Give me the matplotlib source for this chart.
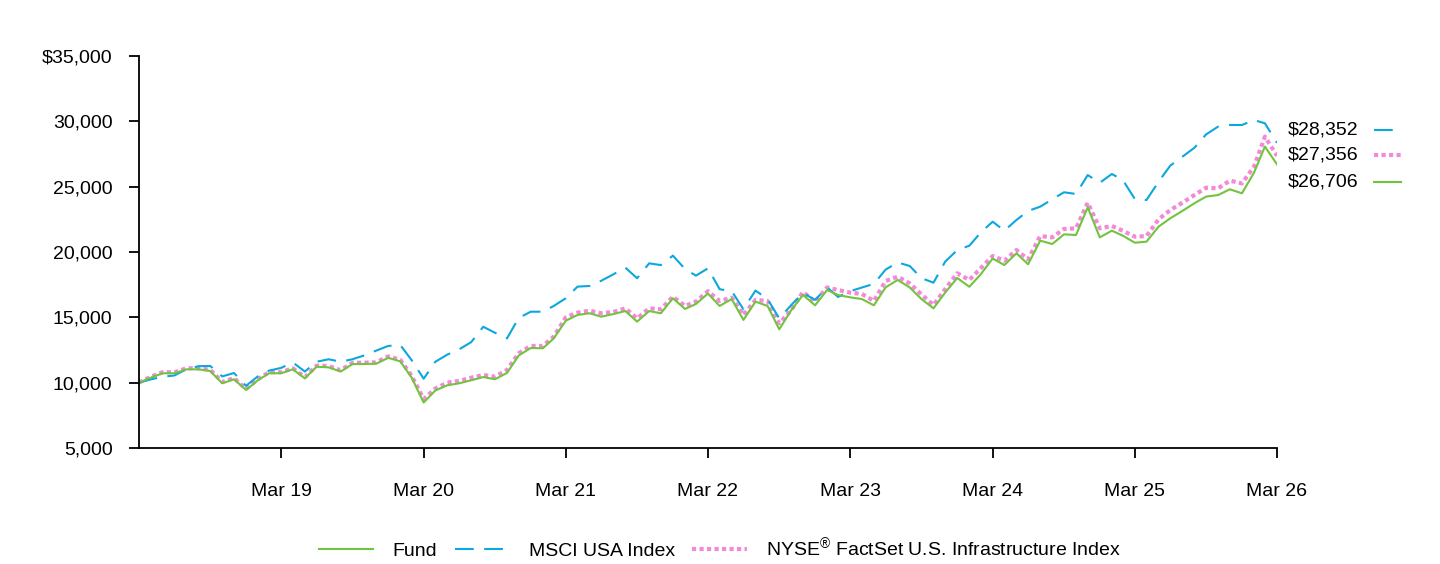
import numpy as np
import pandas as pd
import matplotlib
matplotlib.use("Agg")
import matplotlib.pyplot as plt
from matplotlib.ticker import FuncFormatter

plt.rcParams['font.family'] = ['Liberation Sans', 'DejaVu Sans']
plt.rcParams['mathtext.default'] = 'regular'

# monthly values, Mar 2018 .. Mar 2026
dates = pd.date_range('2018-03-31', periods=97, freq='ME')

fund = [10000, 10380, 10720, 10720, 11020, 11020, 10890, 9950, 10260, 9440,
        10200, 10720, 10720, 11020, 10330, 11220, 11170, 10850, 11420, 11430,
        11450, 11900, 11630, 10400, 8480, 9400, 9800, 9950, 10180, 10430,
        10260, 10740, 12080, 12650, 12630, 13390, 14740, 15180, 15310, 15050,
        15250, 15480, 14670, 15480, 15310, 16460, 15640, 16020, 16820, 15870,
        16400, 14800, 16200, 15870, 14080, 15560, 16710, 15920, 17090, 16710,
        16530, 16400, 15920, 17290, 17860, 17290, 16400, 15690, 16890, 18010,
        17340, 18280, 19500, 19000, 19900, 19060, 20870, 20610, 21350, 21300,
        23420, 21120, 21630, 21250, 20710, 20790, 21940, 22580, 23140, 23730,
        24240, 24360, 24800, 24490, 26070, 28070, 26706]

msci = [10000, 10250, 10450, 10550, 11030, 11260, 11280, 10480, 10740, 9760,
        10500, 10920, 11130, 11550, 10850, 11600, 11790, 11600, 11790, 12090,
        12450, 12810, 12880, 11730, 10300, 11600, 12150, 12550, 13100, 14280,
        13820, 13390, 14950, 15430, 15430, 15870, 16460, 17350, 17400, 17800,
        18290, 18800, 17990, 19130, 19000, 19720, 18700, 18190, 18750, 17150,
        17000, 15620, 17050, 16400, 14920, 15950, 16870, 16330, 17290, 16560,
        17000, 17280, 17560, 18650, 19200, 18930, 18000, 17650, 19260, 20150,
        20480, 21480, 22320, 21630, 22450, 23140, 23470, 24030, 24570, 24440,
        25890, 25300, 25970, 25510, 24060, 23980, 25380, 26610, 27290, 27980,
        29000, 29600, 29720, 29720, 30100, 29850, 28352]

nyse = [10000, 10450, 10800, 10800, 11100, 11100, 10980, 10050, 10350, 9520,
        10280, 10800, 10800, 11100, 10420, 11300, 11270, 10950, 11520, 11530,
        11560, 12010, 11750, 10520, 8750, 9550, 10000, 10130, 10380, 10590,
        10460, 10970, 12250, 12810, 12810, 13520, 15000, 15360, 15510, 15310,
        15410, 15690, 14920, 15690, 15620, 16580, 15870, 16200, 17000, 16250,
        16500, 15180, 16330, 16250, 14540, 15560, 16940, 16200, 17290, 17090,
        16890, 16790, 16250, 17780, 18110, 17600, 16760, 15940, 17150, 18370,
        17860, 18750, 19690, 19330, 20150, 19440, 21220, 21120, 21760, 21810,
        23770, 21810, 21990, 21630, 21170, 21220, 22500, 23210, 23770, 24360,
        24920, 24870, 25460, 25250, 26530, 28830, 27356]

names = ['Fund', 'MSCI USA Index', 'NYSE$^{®}$ FactSet U.S. Infrastructure Index']
end_labels = ['$28,352', '$27,356', '$26,706']

green = '#72C43C'
blue = '#0AA8DE'
pink = '#F28AD9'
fs = 14

fig = plt.figure(figsize=(14.4, 5.64), dpi=100)
ax = fig.add_axes([0.0965, 0.2057, 0.7903, 0.695])

l_nyse, = ax.plot(dates, nyse, color=pink, lw=3, linestyle=(0, (1, 0.8)))
l_msci, = ax.plot(dates, msci, color=blue, lw=1.5, linestyle=(0, (9, 5)))
l_fund, = ax.plot(dates, fund, color=green, lw=1.5)

ax.set_xlim(dates[0], dates[-1])
ax.set_ylim(5000, 35000)
ax.set_yticks(np.arange(5000, 35001, 5000))
ax.yaxis.set_major_formatter(FuncFormatter(
    lambda v, p: f'${v:,.0f}' if v == 35000 else f'{v:,.0f}'))

ticks = [d for d in dates if d.month == 3][1:]
ax.set_xticks(ticks)
ax.set_xticklabels([d.strftime('%b %y') for d in ticks])

for s in ['top', 'right']:
    ax.spines[s].set_visible(False)
for s in ['left', 'bottom']:
    ax.spines[s].set_linewidth(1.3)
ax.tick_params(axis='x', length=7, width=1.3, pad=18, labelsize=fs)
ax.tick_params(axis='y', length=7, width=1.3, pad=12, labelsize=fs)

# end-of-period value labels with line samples
lab_y = [0.811, 0.747, 0.679]
samples = [(blue, 1.5, (0, (9, 5))), (pink, 3, (0, (1, 0.8))), (green, 1.5, '-')]
for txt, yy, (c, lw, ls) in zip(end_labels, lab_y, samples):
    ax.text(1.0097, yy, txt, transform=ax.transAxes, va='center', ha='left',
            fontsize=fs)
    ax.plot([1.085, 1.109], [yy, yy], transform=ax.transAxes, color=c, lw=lw,
            linestyle=ls, clip_on=False)

fig.legend([l_fund, l_msci, l_nyse], names, loc='center',
           bbox_to_anchor=(0.5, 0.028), ncol=3, frameon=False, fontsize=fs,
           handlelength=2.8, handletextpad=1.0, columnspacing=0.9)

fig.savefig('out.png', dpi=100)
